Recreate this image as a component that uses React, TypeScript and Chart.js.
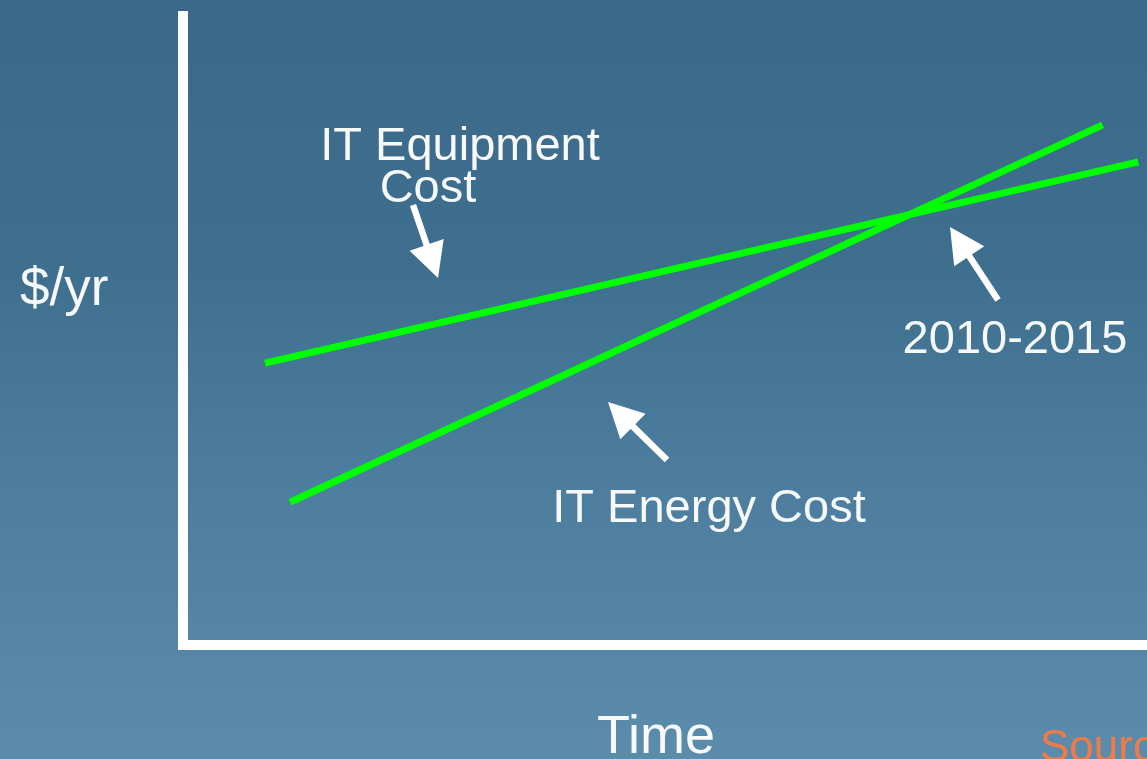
import React, { useEffect, useRef } from "react";
import { Chart, registerables } from "chart.js";

Chart.register(...registerables);

// ---- Data (arbitrary units: time 0..100, $/yr 0..100) ----
const seriesNames = ["IT Equipment Cost", "IT Energy Cost"];
const equipmentTime = [8.5, 99.1];
const equipmentCost = [44.8, 76.8];
const energyTime = [11.1, 95.4];
const energyCost = [22.7, 82.7];

const xAxisLabel = "Time";
const yAxisLabel = "$/yr";
const crossoverLabel = "2010-2015";
const sourceLabel = "Source";

const FONT = '"Liberation Sans", Arial, Helvetica, sans-serif';

const annotationPlugin = {
  id: "annotations",
  afterDraw(chart: any) {
    const ctx: CanvasRenderingContext2D = chart.ctx;
    ctx.save();
    ctx.fillStyle = "#ffffff";
    ctx.textBaseline = "alphabetic";

    const text = (t: string, x: number, y: number, size: number, align: CanvasTextAlign, color = "#f6f8fa") => {
      ctx.font = `${size}px ${FONT}`;
      ctx.textAlign = align;
      ctx.fillStyle = color;
      ctx.fillText(t, x, y);
    };

    const arrow = (x1: number, y1: number, x2: number, y2: number) => {
      const headLen = 35;
      const headHalf = 18;
      const ang = Math.atan2(y2 - y1, x2 - x1);
      const bx = x2 - headLen * Math.cos(ang);
      const by = y2 - headLen * Math.sin(ang);
      ctx.strokeStyle = "#ffffff";
      ctx.lineWidth = 6.5;
      ctx.lineCap = "butt";
      ctx.beginPath();
      ctx.moveTo(x1, y1);
      ctx.lineTo(bx + 2 * Math.cos(ang), by + 2 * Math.sin(ang));
      ctx.stroke();
      ctx.fillStyle = "#ffffff";
      ctx.beginPath();
      ctx.moveTo(x2, y2);
      ctx.lineTo(bx + headHalf * Math.sin(ang), by - headHalf * Math.cos(ang));
      ctx.lineTo(bx - headHalf * Math.sin(ang), by + headHalf * Math.cos(ang));
      ctx.closePath();
      ctx.fill();
    };

    text("IT Equipment", 460, 160, 47, "center");
    text("Cost", 428, 202, 47, "center");
    arrow(413, 205, 438, 278);

    text(seriesNames[1], 709, 522, 47, "center");
    arrow(667, 460, 608, 402);

    text(crossoverLabel, 1015, 353, 47, "center");
    arrow(998, 300, 950, 227);

    text(yAxisLabel, 20, 305, 53, "left");
    text(xAxisLabel, 656, 753, 54, "center");
    text(sourceLabel, 1040, 761, 44, "left", "#f27a48");

    ctx.restore();
  },
};

export default function App() {
  const canvasRef = useRef<HTMLCanvasElement | null>(null);

  useEffect(() => {
    document.body.style.margin = "0";
    const canvas = canvasRef.current;
    if (!canvas) return;
    const chart = new Chart(canvas, {
      type: "scatter",
      data: {
        datasets: [
          {
            label: seriesNames[0],
            data: equipmentTime.map((x, i) => ({ x, y: equipmentCost[i] })),
            showLine: true,
            borderColor: "#00ff00",
            backgroundColor: "#00ff00",
            borderWidth: 7,
            borderCapStyle: "butt",
            pointRadius: 0,
            tension: 0,
          },
          {
            label: seriesNames[1],
            data: energyTime.map((x, i) => ({ x, y: energyCost[i] })),
            showLine: true,
            borderColor: "#00ff00",
            backgroundColor: "#00ff00",
            borderWidth: 7,
            borderCapStyle: "butt",
            pointRadius: 0,
            tension: 0,
          },
        ],
      },
      options: {
        responsive: false,
        devicePixelRatio: 1,
        animation: false,
        layout: { padding: { left: 183, top: 16, right: 0, bottom: 114 } },
        plugins: {
          legend: { display: false },
          tooltip: { enabled: false },
        },
        scales: {
          x: {
            type: "linear",
            min: 0,
            max: 100,
            ticks: { display: false },
            grid: { display: true, drawTicks: false, drawOnChartArea: false, color: "rgba(0,0,0,0)", lineWidth: 0 },
            border: { display: true, color: "#ffffff", width: 10 },
            title: { display: false },
          },
          y: {
            type: "linear",
            min: 0,
            max: 100,
            ticks: { display: false },
            grid: { display: true, drawTicks: false, drawOnChartArea: false, color: "rgba(0,0,0,0)", lineWidth: 0 },
            border: { display: true, color: "#ffffff", width: 10 },
            title: { display: false },
          },
        },
      },
      plugins: [annotationPlugin],
    });
    return () => chart.destroy();
  }, []);

  return (
    <div
      style={{
        position: "fixed",
        left: 0,
        top: 0,
        width: 1147,
        height: 759,
        overflow: "hidden",
        background: "linear-gradient(to bottom, #3a6889 0%, #3f6f8e 35%, #4c7c9d 60%, #5c8cab 100%)",
      }}
    >
      <canvas ref={canvasRef} width={1147} height={759} style={{ display: "block" }} />
    </div>
  );
}
